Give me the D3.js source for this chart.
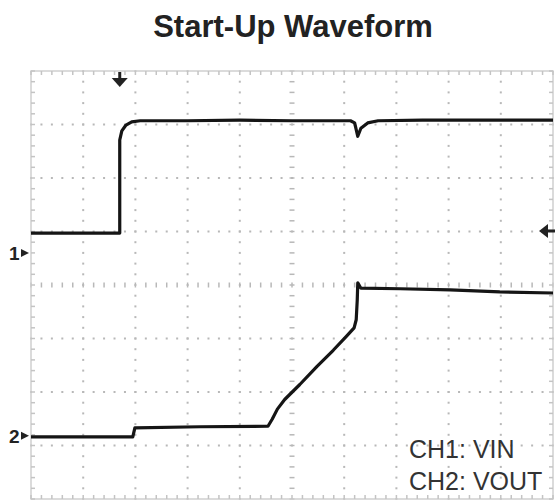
<!DOCTYPE html>
<html>
<head>
<meta charset="utf-8">
<script src="https://cdn.jsdelivr.net/npm/d3@7"></script>
<style>
  body { margin: 0; background: #fff; }
  svg { display: block; }
</style>
</head>
<body>
<svg id="chart" width="555" height="502"></svg>
<script>
// time in divisions (0..10), level in divisions from screen centre (-4..4)
var ch1Time = [0, 1.70, 1.70, 1.74, 1.82, 1.93, 2.09, 3.0, 4.0, 5.0, 6.12, 6.20, 6.26, 6.32, 6.45, 6.65, 7.5, 8.5, 10];
var ch1Level = [0.97, 0.97, 2.71, 2.88, 2.99, 3.05, 3.07, 3.07, 3.08, 3.07, 3.07, 3.03, 2.78, 2.93, 3.03, 3.07, 3.08, 3.08, 3.08];

var ch2Time = [0, 1.95, 1.99, 3.24, 4.54, 4.62, 4.72, 4.86, 5.15, 5.48, 5.79, 6.05, 6.19, 6.23, 6.25, 6.26, 6.32, 7.07, 8.03, 8.98, 10];
var ch2Level = [-2.84, -2.84, -2.67, -2.65, -2.64, -2.51, -2.32, -2.14, -1.86, -1.52, -1.22, -0.95, -0.80, -0.65, -0.28, 0.04, -0.06, -0.07, -0.09, -0.13, -0.15];

var groundMarks = [{ label: "1", level: 0.6 }, { label: "2", level: -2.82 }];
var triggerLevel = 1.01;
var triggerTime = 1.70;
var legendLines = ["CH1: VIN", "CH2: VOUT"];
var title = "Start-Up Waveform";

var svg = d3.select("svg#chart");

var x = d3.scaleLinear().domain([0, 10]).range([31, 553]);
var y = d3.scaleLinear().domain([-4, 4]).range([499, 71]);

svg.append("text")
    .attr("x", 293).attr("y", 37)
    .attr("text-anchor", "middle")
    .style("font-family", "'Liberation Sans', Arial, sans-serif")
    .style("font-weight", "bold")
    .style("font-size", "31px")
    .attr("fill", "#222")
    .text(title);

var grid = svg.append("g");

// dotted grid lines
var xMinor = d3.range(0, 50.001, 1).map(function(i) { return i / 5; });
var yMinor = d3.range(0, 40.001, 1).map(function(i) { return -4 + i / 5; });
var dots = [];
d3.range(1, 10).forEach(function(gx) {
    if (gx == 5) return;
    yMinor.forEach(function(v) { dots.push([gx, v]); });
});
d3.range(-3, 4).forEach(function(gy) {
    if (gy == 0) return;
    xMinor.forEach(function(t) { dots.push([t, gy]); });
});
grid.selectAll(".dot").data(dots).enter().append("rect")
    .attr("x", function(d) { return x(d[0]) - 1; })
    .attr("y", function(d) { return y(d[1]) - 1; })
    .attr("width", 2).attr("height", 2)
    .attr("fill", "#b8b8b8");

// centre cross ticks
grid.selectAll(".ctx").data(xMinor).enter().append("line")
    .attr("x1", function(d) { return x(d); }).attr("x2", function(d) { return x(d); })
    .attr("y1", y(0) - 2.5).attr("y2", y(0) + 2.5)
    .attr("stroke", "#b8b8b8").attr("stroke-width", 1.5);
grid.selectAll(".cty").data(yMinor).enter().append("line")
    .attr("x1", x(5) - 2.5).attr("x2", x(5) + 2.5)
    .attr("y1", function(d) { return y(d); }).attr("y2", function(d) { return y(d); })
    .attr("stroke", "#b8b8b8").attr("stroke-width", 1.5);

// frame with inward ticks
grid.append("rect")
    .attr("x", x(0)).attr("y", y(4))
    .attr("width", x(10) - x(0)).attr("height", y(-4) - y(4))
    .attr("fill", "none").attr("stroke", "#cfcfcf").attr("stroke-width", 1.5);
grid.selectAll(".tt").data(xMinor).enter().append("line")
    .attr("x1", function(d) { return x(d); }).attr("x2", function(d) { return x(d); })
    .attr("y1", y(4)).attr("y2", y(4) + 4)
    .attr("stroke", "#c4c4c4").attr("stroke-width", 1.5);
grid.selectAll(".bt").data(xMinor).enter().append("line")
    .attr("x1", function(d) { return x(d); }).attr("x2", function(d) { return x(d); })
    .attr("y1", y(-4)).attr("y2", y(-4) - 4)
    .attr("stroke", "#c4c4c4").attr("stroke-width", 1.5);
grid.selectAll(".lt").data(yMinor).enter().append("line")
    .attr("x1", x(0)).attr("x2", x(0) + 4)
    .attr("y1", function(d) { return y(d); }).attr("y2", function(d) { return y(d); })
    .attr("stroke", "#c4c4c4").attr("stroke-width", 1.5);
grid.selectAll(".rt").data(yMinor).enter().append("line")
    .attr("x1", x(10)).attr("x2", x(10) - 4)
    .attr("y1", function(d) { return y(d); }).attr("y2", function(d) { return y(d); })
    .attr("stroke", "#c4c4c4").attr("stroke-width", 1.5);

// traces
var line = d3.line()
    .x(function(d) { return x(d[0]); })
    .y(function(d) { return y(d[1]); });

var traces = [d3.zip(ch1Time, ch1Level), d3.zip(ch2Time, ch2Level)];
svg.selectAll(".trace").data(traces).enter().append("path")
    .attr("d", line)
    .attr("fill", "none")
    .attr("stroke", "#151515")
    .attr("stroke-width", 3.2)
    .attr("stroke-linejoin", "round");

// ground markers
groundMarks.forEach(function(m) {
    var gy = y(m.level);
    svg.append("text")
        .attr("x", 9).attr("y", gy + 7)
        .style("font-family", "'Liberation Sans', Arial, sans-serif")
        .style("font-weight", "bold")
        .style("font-size", "19px")
        .attr("fill", "#222")
        .text(m.label);
    svg.append("path")
        .attr("d", "M" + 21 + "," + (gy - 4) + " L" + 29 + "," + gy + " L" + 21 + "," + (gy + 4) + "Z")
        .attr("fill", "#222");
});

// trigger level arrow (right)
var ty = y(triggerLevel);
svg.append("path")
    .attr("d", "M" + (x(10) - 14) + "," + ty + " L" + (x(10) - 5) + "," + (ty - 7) + " L" + (x(10) - 5) + "," + (ty + 7) + "Z")
    .attr("fill", "#222");
svg.append("line")
    .attr("x1", x(10) - 6).attr("x2", x(10) + 2)
    .attr("y1", ty).attr("y2", ty)
    .attr("stroke", "#222").attr("stroke-width", 3);

// trigger position arrow (top)
var tx = x(triggerTime);
svg.append("line")
    .attr("x1", tx).attr("x2", tx)
    .attr("y1", y(4) + 1).attr("y2", y(4) + 9)
    .attr("stroke", "#222").attr("stroke-width", 3);
svg.append("path")
    .attr("d", "M" + (tx - 8) + "," + (y(4) + 7) + " L" + (tx + 8) + "," + (y(4) + 7) + " L" + tx + "," + (y(4) + 16) + "Z")
    .attr("fill", "#222");

// legend
svg.selectAll(".legend").data(legendLines).enter().append("text")
    .attr("x", 409)
    .attr("y", function(d, i) { return 458 + i * 32; })
    .style("font-family", "'Liberation Sans', Arial, sans-serif")
    .style("font-size", "25px")
    .attr("fill", "#333")
    .text(function(d) { return d; });
</script>
</body>
</html>
